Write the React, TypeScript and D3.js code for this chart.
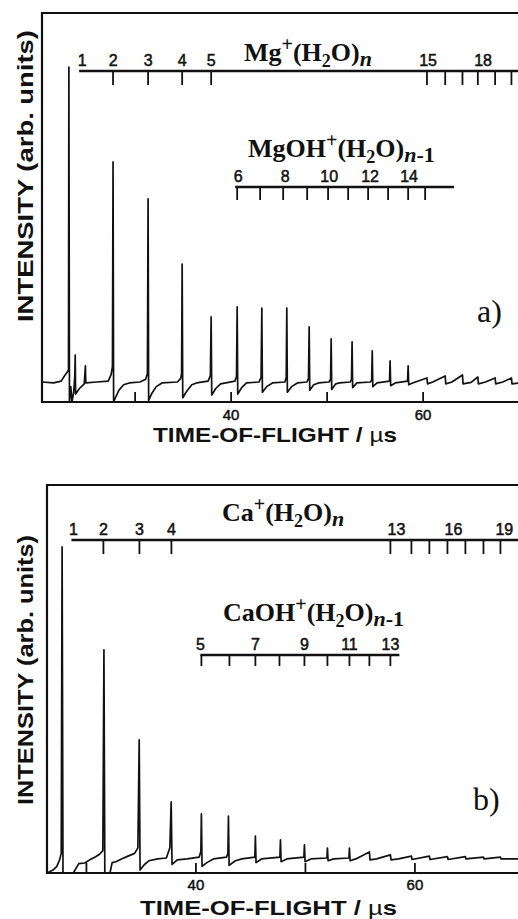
import React from "react";
import * as d3 from "d3";

const W = 518;
const H = 919;

// ---------- shared axis data ----------
const TIME_TICKS = [30, 40, 50, 60];
const TIME_LABELS = [40, 60];

// ---------- panel a : Mg ----------
const TRACE_A: [number, number][] = [
  [20.3, 0.05], [21.5, 0], [22.3, 0.1], [22.6, 0.35], [22.95, 0.6], [23.06, 0.7],
  [23.1, 17.08], [23.16, -1.03], [23.3, -0.2], [23.42, -1.03], [23.6, -0.5], [23.72, 0.4],
  [23.76, 1.5], [23.8, -0.6], [24.2, -0.3], [24.7, -0.05], [24.82, 0.92], [24.86, 0],
  [26.0, 0.05], [27.2, 0.1], [27.5, 0.45], [27.64, 0.9], [27.7, 11.95], [27.76, -1.03],
  [27.95, -0.8], [28.3, -0.4], [28.8, -0.1], [29.4, 0], [30.5, 0.05], [31.1, 0.2],
  [31.28, 0.5], [31.35, 9.95], [31.41, -0.95], [31.7, -0.6], [32.2, -0.2], [32.8, 0],
  [34.4, 0.05], [34.75, 0.25], [34.84, 0.5], [34.9, 6.43], [34.96, -0.8], [35.3, -0.5],
  [35.9, -0.1], [36.4, 0], [37.6, 0.1], [37.84, 0.4], [37.92, 3.57], [37.98, -0.65],
  [38.4, -0.3], [38.9, -0.05], [40.4, 0.1], [40.56, 0.35], [40.63, 4.11], [40.69, -0.6],
  [41.1, -0.25], [41.6, 0], [42.9, 0.05], [43.12, 0.3], [43.2, 4.05], [43.26, -0.5],
  [43.7, -0.2], [44.3, 0], [45.6, 0.05], [45.74, 0.3], [45.8, 4.05], [45.86, -0.5],
  [46.3, -0.2], [46.9, 0], [47.9, 0.05], [48.06, 0.25], [48.13, 3.03], [48.19, -0.4],
  [48.6, -0.1], [49.1, 0], [50.2, 0.05], [50.36, 0.2], [50.42, 2.38], [50.48, -0.35],
  [50.9, -0.05], [51.3, 0], [52.4, 0.05], [52.54, 0.2], [52.6, 2.22], [52.66, -0.25],
  [53.1, 0], [54.5, 0.05], [54.64, 0.15], [54.7, 1.73], [54.76, -0.2], [55.2, 0],
  [56.5, 0.1], [56.56, 1.19], [56.62, -0.15], [57.1, 0], [58.38, 0.1], [58.44, 0.92],
  [58.5, -0.1], [58.9, 0], [60.4, 0.27], [60.46, -0.05], [61.0, 0.05], [62.3, 0.38],
  [62.36, -0.05], [63.0, 0.05], [64.1, 0.43], [64.16, -0.05], [65.0, 0.03], [65.7, 0.32],
  [65.76, -0.05], [66.5, 0.05], [67.5, 0.27], [67.56, -0.05], [68.3, 0.05], [69.2, 0.27],
  [69.26, -0.05], [70, 0],
];

const MG_LINE = [24.17, 72];
const MG_TICK_T = [27.7, 31.35, 34.9, 37.92, 60.4, 62.3, 64.1, 65.7, 67.5, 69.2];
const MG_LABEL_N = ["1", "2", "3", "4", "5", "15", "18"];
const MG_LABEL_T = [24.48, 27.71, 31.35, 34.9, 37.92, 60.52, 66.25];

const MGOH_LINE = [40.42, 63.23];
const MGOH_TICK_T = [40.63, 43.02, 45.42, 47.92, 50.1, 52.19, 54.27, 56.35, 58.44, 60.21];
const MGOH_LABEL_N = ["6", "8", "10", "12", "14"];
const MGOH_LABEL_T = [40.73, 45.63, 50.21, 54.48, 58.54];

// ---------- panel b : Ca ----------
const TRACE_B: [number, number][] = [
  [26.4, -0.76], [26.95, -0.6], [27.3, -0.4], [27.55, -0.05], [27.7, 0.3], [27.78, 16.86],
  [27.86, -0.76], [28.8, -0.76], [29.3, -0.25], [29.85, -0.22], [30.3, -0.05], [30.8, 0.1],
  [31.2, 0.25], [31.5, 0.45], [31.6, 11.3], [31.68, -0.76], [32.15, -0.76], [32.35, -0.2],
  [32.7, -0.15], [33.2, 0.0], [33.8, 0.15], [34.4, 0.3], [34.7, 0.6], [34.82, 6.43],
  [34.9, -0.6], [35.3, -0.3], [35.7, -0.1], [36.5, 0], [37.3, 0.05], [37.62, 0.6],
  [37.74, 3.08], [37.82, -0.3], [38.3, -0.05], [39.2, 0], [40.3, 0.1], [40.45, 0.4],
  [40.5, 2.43], [40.56, -0.4], [41.0, -0.2], [41.6, 0], [42.8, 0.1], [42.92, 0.3],
  [42.97, 2.32], [43.03, -0.35], [43.6, -0.1], [44.2, 0], [45.38, 0.1], [45.43, 1.24],
  [45.49, -0.2], [46.0, 0], [47.67, 0.1], [47.72, 1.03], [47.78, -0.15], [48.3, 0],
  [49.86, 0.1], [49.91, 0.76], [49.97, -0.15], [50.5, 0], [51.96, 0.05], [52.01, 0.59],
  [52.07, -0.1], [52.6, 0], [53.97, 0.05], [54.02, 0.59], [54.08, -0.1], [54.6, 0],
  [55.84, 0.38], [55.9, -0.05], [56.5, 0], [57.76, 0.22], [57.82, -0.05], [58.5, 0],
  [59.68, 0.15], [59.74, -0.03], [61.32, 0.15], [61.38, -0.03], [62.97, 0.12], [63.03, -0.03],
  [64.61, 0.12], [64.67, 0], [66.26, 0.1], [66.32, 0], [67.81, 0.1], [67.87, 0], [70, 0],
];

const CA_LINE = [28.63, 72];
const CA_TICK_T = [31.55, 34.84, 37.76, 57.76, 59.68, 61.32, 62.97, 64.61, 66.26, 67.81];
const CA_LABEL_N = ["1", "2", "3", "4", "13", "16", "19"];
const CA_LABEL_T = [28.81, 31.55, 34.84, 37.76, 58.31, 63.52, 68.17];

const CAOH_LINE = [40.41, 58.58];
const CAOH_TICK_T = [40.5, 43.06, 45.43, 47.63, 49.91, 52.01, 54.02, 55.84, 57.76];
const CAOH_LABEL_N = ["5", "7", "9", "11", "13"];
const CAOH_LABEL_T = [40.41, 45.43, 49.91, 54.02, 57.76];

const SANS = "'Liberation Sans', Arial, Helvetica, sans-serif";
const SERIF = "'Liberation Serif', 'Times New Roman', serif";
const INK = "#111";

type Layout = {
  x: d3.ScaleLinear<number, number>;
  y: d3.ScaleLinear<number, number>;
  left: number;
  top: number;
  bottom: number;
};

function Scale({ x, lineT, y0, tickT, labelN, labelT, tickLen }: any) {
  return (
    <g>
      <line x1={x(lineT[0])} x2={x(lineT[1])} y1={y0} y2={y0} stroke={INK} strokeWidth={2.6} />
      {tickT.map((t: number, i: number) => (
        <line key={i} x1={x(t)} x2={x(t)} y1={y0} y2={y0 + tickLen} stroke={INK} strokeWidth={1.8} />
      ))}
      {labelN.map((n: string, i: number) => (
        <text key={i} x={x(labelT[i])} y={y0 - 5} textAnchor="middle" fontFamily={SANS}
          fontSize={16} fill={INK} stroke={INK} strokeWidth={0.5}>{n}</text>
      ))}
    </g>
  );
}

function Frame({ L, labelY, labelLen, titleY, titleX, titleLen, tickLabelY }: any) {
  const { x, left, top, bottom } = L;
  return (
    <g>
      <path d={`M${W + 5},${top} H${left} V${bottom} H${W + 5}`} fill="none" stroke={INK} strokeWidth={2.2} />
      {TIME_TICKS.map((t) => (
        <line key={t} x1={x(t)} x2={x(t)} y1={bottom} y2={bottom - 10} stroke={INK} strokeWidth={1.8} />
      ))}
      {TIME_LABELS.map((t) => (
        <text key={t} x={x(t)} y={tickLabelY} textAnchor="middle" fontFamily={SANS} fontSize={15}
          fill={INK} stroke={INK} strokeWidth={0.5}>{t}</text>
      ))}
      <text x={titleX} y={titleY} fontFamily={SANS} fontWeight={700} fontSize={21} fill={INK}
        textLength={titleLen} lengthAdjust="spacingAndGlyphs">
        TIME-OF-FLIGHT / <tspan fontWeight={400}>µ</tspan>s
      </text>
      <text transform={`translate(33,${labelY}) rotate(-90)`} textAnchor="middle" fontFamily={SANS}
        fontWeight={700} fontSize={22} fill={INK} textLength={labelLen} lengthAdjust="spacingAndGlyphs">
        INTENSITY (arb. units)
      </text>
    </g>
  );
}

function Formula({ x, y, metal, hydroxide }: { x: number; y: number; metal: string; hydroxide: boolean }) {
  return (
    <text x={x} y={y} fontFamily={SERIF} fontWeight={700} fontSize={26} fill={INK}>
      {metal}{hydroxide ? "OH" : ""}
      <tspan fontSize={20} dy={-10}>+</tspan>
      <tspan fontSize={26} dy={10}>(H</tspan>
      <tspan fontSize={18} dy={6}>2</tspan>
      <tspan fontSize={26} dy={-6}>O)</tspan>
      <tspan fontSize={22} dy={5} fontStyle="italic">n</tspan>
      {hydroxide ? <tspan fontSize={22}>-1</tspan> : null}
    </text>
  );
}

export default function App() {
  // panel a scales
  const xa = d3.scaleLinear().domain([20.3, 70]).range([42, 42 + 49.7 * 9.6]);
  const ya = d3.scaleLinear().domain([-1.03, 20]).range([402, 13]);
  // panel b scales
  const xb = d3.scaleLinear().domain([26.4, 70]).range([47, 47 + 43.6 * 10.95]);
  const yb = d3.scaleLinear().domain([-0.76, 20.2]).range([873, 485]);

  const lineA = d3.line<[number, number]>().x((d) => xa(d[0])).y((d) => ya(d[1]));
  const lineB = d3.line<[number, number]>().x((d) => xb(d[0])).y((d) => yb(d[1]));

  const La: Layout = { x: xa, y: ya, left: 42, top: 13, bottom: 402 };
  const Lb: Layout = { x: xb, y: yb, left: 47, top: 485, bottom: 873 };

  return (
    <svg width={W} height={H} viewBox={`0 0 ${W} ${H}`}
      style={{ position: "absolute", left: 0, top: 0, background: "#fff", display: "block" }}>
      <rect width={W} height={H} fill="#fff" />
      {/* panel a */}
      <Frame L={La} labelY={176} labelLen={292} titleX={153} titleY={442} titleLen={244} tickLabelY={420} />
      <path d={lineA(TRACE_A) || ""} fill="none" stroke={INK} strokeWidth={1.7} strokeLinejoin="round" />
      <Scale x={xa} lineT={MG_LINE} y0={71} tickT={MG_TICK_T} labelN={MG_LABEL_N} labelT={MG_LABEL_T} tickLen={14} />
      <Scale x={xa} lineT={MGOH_LINE} y0={187} tickT={MGOH_TICK_T} labelN={MGOH_LABEL_N} labelT={MGOH_LABEL_T} tickLen={13} />
      <Formula x={244} y={61} metal="Mg" hydroxide={false} />
      <Formula x={248} y={157} metal="Mg" hydroxide={true} />
      <text x={477} y={322} fontFamily={SERIF} fontSize={32} fill={INK}>a)</text>

      {/* panel b */}
      <Frame L={Lb} labelY={670} labelLen={270} titleX={140} titleY={915} titleLen={257} tickLabelY={890} />
      <path d={lineB(TRACE_B) || ""} fill="none" stroke={INK} strokeWidth={1.7} strokeLinejoin="round" />
      <Scale x={xb} lineT={CA_LINE} y0={540} tickT={CA_TICK_T} labelN={CA_LABEL_N} labelT={CA_LABEL_T} tickLen={14} />
      <Scale x={xb} lineT={CAOH_LINE} y0={655} tickT={CAOH_TICK_T} labelN={CAOH_LABEL_N} labelT={CAOH_LABEL_T} tickLen={11} />
      <Formula x={222} y={521} metal="Ca" hydroxide={false} />
      <Formula x={223} y={621} metal="Ca" hydroxide={true} />
      <text x={473} y={810} fontFamily={SERIF} fontSize={32} fill={INK}>b)</text>
    </svg>
  );
}
